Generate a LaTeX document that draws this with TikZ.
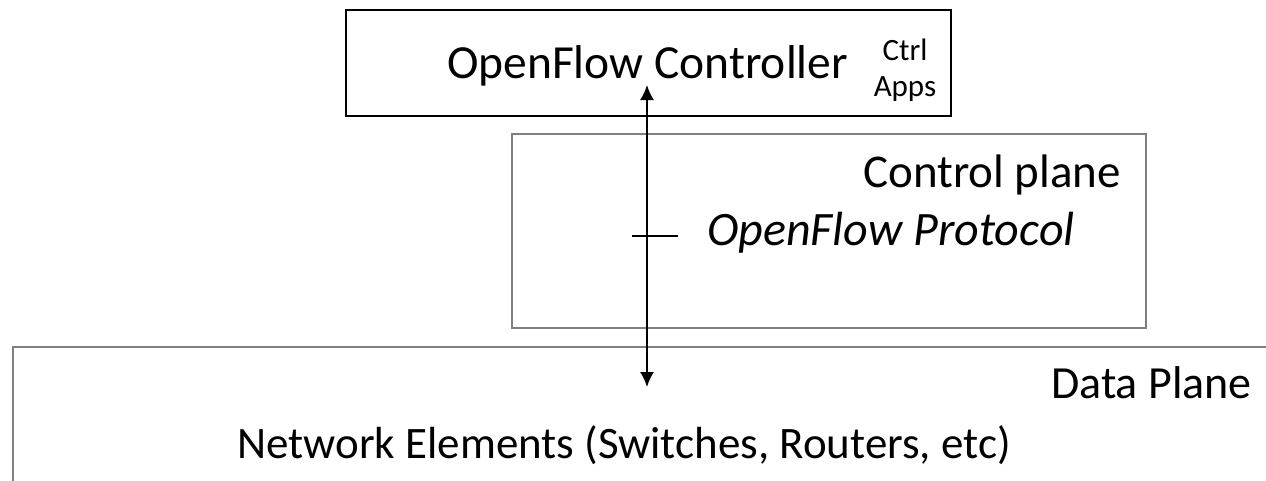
\documentclass[tikz,border=0pt]{standalone}
\usepackage{fontspec}
\setmainfont{Carlito}
\usetikzlibrary{arrows.meta}
\begin{document}
\begin{tikzpicture}[x=1pt,y=1pt,
  big/.style={inner sep=0pt,font=\fontsize{46}{55}\selectfont},
  small/.style={inner sep=0pt,align=center,font=\fontsize{31}{36}\selectfont},
  blackbox/.style={draw=black,line width=1.8pt,inner sep=0pt,anchor=north west},
  graybox/.style={draw=black!50,line width=1.8pt,inner sep=0pt,anchor=north west},
  conn/.style={line width=1.8pt,{Latex[length=15pt,width=14pt]}-{Latex[length=15pt,width=14pt]}}]
\path[use as bounding box,clip] (0,0) rectangle (1266,-480);
\fill[white] (0,0) rectangle (1266,-480);
% boxes
\node[blackbox,minimum width=605pt,minimum height=106pt] (ctrl) at (345,-9) {};
\node[graybox,minimum width=634pt,minimum height=194pt] (cp) at (511,-133) {};
\node[graybox,minimum width=1280pt,minimum height=160pt] (dp) at (12,-346) {};
% texts
\node[big,anchor=base west,font=\fontsize{47.5}{56}\selectfont] (ctrltext) at (447,-78) {OpenFlow Controller};
\node[small,anchor=base] (ctrlw) at (905,-60) {Ctrl};
\node[small,anchor=base] (apps) at (905,-96) {Apps};
\node[big,anchor=base west,font=\fontsize{47}{56}\selectfont] (cptext) at (863,-187) {Control plane};
\node[big,anchor=base west,font=\fontsize{48}{57}\selectfont] (proto) at (707,-245) {\itshape OpenFlow Protocol};
\node[big,anchor=base east] (dptext) at (1252,-398) {Data Plane};
\node[big,anchor=base,font=\fontsize{45}{54}\selectfont] (netel) at (624,-458) {Network Elements (Switches, Routers, etc)};
% connector
\coordinate (top) at (647,-85);
\coordinate (bot) at (647,-387);
\coordinate (tickl) at (632,-236);
\coordinate (tickr) at (678,-236);
\draw[conn] (bot) -- (top);
\draw[line width=1.5pt] (tickl) -- (tickr);
\end{tikzpicture}
\end{document}
